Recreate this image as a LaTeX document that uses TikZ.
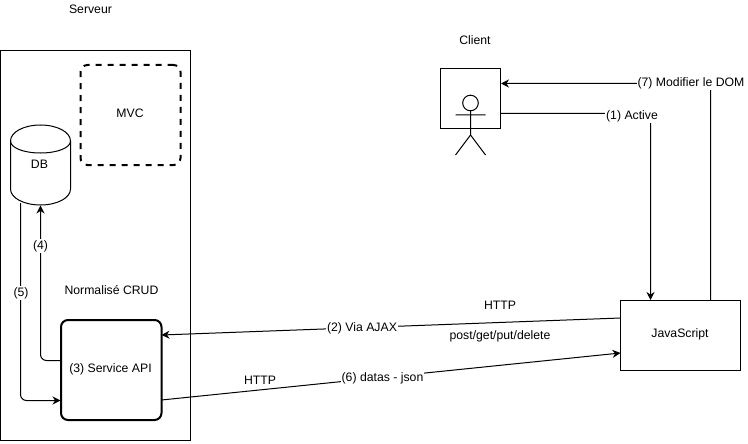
\documentclass[tikz,border=0pt]{standalone}
\usepackage{fontspec}
\setmainfont{Liberation Sans}
\usetikzlibrary{arrows.meta,calc}
\tikzset{
  base/.style={line width=1pt,draw=black},
  boxnode/.style={base,inner sep=0pt,outer sep=0pt,rectangle},
  txt/.style={inner sep=0pt,outer sep=0pt,text=black,font=\fontsize{12.25}{14}\selectfont},
  lab/.style={txt,fill=white,inner xsep=1pt,inner ysep=1pt},
  conn/.style={line width=1pt,draw=black,rounded corners=6pt},
  arr/.style={conn,-{Stealth[length=8pt,width=8pt]}}
}
\begin{document}
\begin{tikzpicture}[x=1pt,y=-1pt]
\useasboundingbox[fill=white] (0,0) rectangle (748,444);
% boxes
\node[boxnode,minimum width=190.5pt,minimum height=389.5pt] (srv) at (95.25,245.25) {};
\node[boxnode,line width=2pt,dash pattern=on 6pt off 6pt,rounded corners=7pt,minimum width=100pt,minimum height=100pt] (mvc) at (130.5,115) {};
\node[boxnode,line width=2pt,rounded corners=7pt,minimum width=100.5pt,minimum height=100pt] (api) at (111.25,370) {};
\node[boxnode,minimum width=60pt,minimum height=60pt] (cli) at (470.5,98.5) {};
\node[boxnode,minimum width=120pt,minimum height=70pt] (js) at (680.5,335) {};
\node[minimum width=60pt,minimum height=80pt,inner sep=0pt,outer sep=0pt] (db) at (40.5,165) {};
% cylinder
\draw[base] (db.west |- 0,141) .. controls (10.5,132) and (24,125) .. (40.5,125) .. controls (57,125) and (70.5,132) .. (70.5,141)
  -- (70.5,189) .. controls (70.5,198) and (57,205) .. (40.5,205) .. controls (24,205) and (10.5,198) .. (10.5,189) -- cycle;
\draw[base] (10.5,141) .. controls (10.5,148) and (24,153) .. (40.5,153) .. controls (57,153) and (70.5,148) .. (70.5,141);
% actor
\coordinate (actneck) at (470.5,111);
\draw[base] (470.5,103) circle (7.8);
\draw[base] (actneck) -- (470.5,135) (455.5,115) -- (485.5,115) (455.5,155) -- (470.5,135) -- (485.5,155);
% anchors for connectors
\coordinate (cliA) at (cli.east |- 0,113.5);
\coordinate (cliB) at (501,83.5);
\coordinate (jsA) at (650.5,300);
\coordinate (jsB) at (710.5,300);
\coordinate (jsC) at (620.5,318);
\coordinate (jsD) at (620.5,353);
\coordinate (apiA) at (161.5,335);
\coordinate (apiB) at (161.5,400);
\coordinate (apiC) at (61,360.5);
\coordinate (apiD) at (60.5,400.5);
\coordinate (dbA) at (40.5,205.5);
\coordinate (dbB) at (20.5,203);
% connectors
\draw[arr] (cliA) -- (650.5,113.5) -- (jsA);
\draw[arr] (jsB) -- (710.5,83.5) -- (cliB);
\draw[arr] (jsC) -- (apiA);
\draw[arr] (apiB) -- (jsD);
\draw[arr] (apiC) -- (40.5,360.5) -- (dbA);
\draw[arr] (dbB) -- (20.5,400.5) -- (apiD);
% connector labels
\node[lab] (l1) at (632,116) {(1) Active};
\node[lab] (l7) at (691,83) {(7) Modifier le DOM};
\node[lab] (l2) at (362,328) {(2) Via AJAX};
\node[lab] (l6) at (382.5,378) {(6) datas - json};
\node[lab] (l4) at (40.5,246) {(4)};
\node[lab] (l5) at (21,293) {(5)};
% texts
\node[txt] (t1) at (90.5,9.5) {Serveur};
\node[txt] (t2) at (475,40) {Client};
\node[txt] (t3) at (130,113) {MVC};
\node[txt] (t4) at (39.5,164) {DB};
\node[txt] (t5) at (111.5,290) {Normalisé CRUD};
\node[txt] (t6) at (110.5,369) {(3) Service API};
\node[txt] (t7) at (260,380) {HTTP};
\node[txt] (t8) at (500,305) {HTTP};
\node[txt] (t9) at (500,336) {post/get/put/delete};
\node[txt] (t10) at (680,334) {JavaScript};
\end{tikzpicture}
\end{document}
